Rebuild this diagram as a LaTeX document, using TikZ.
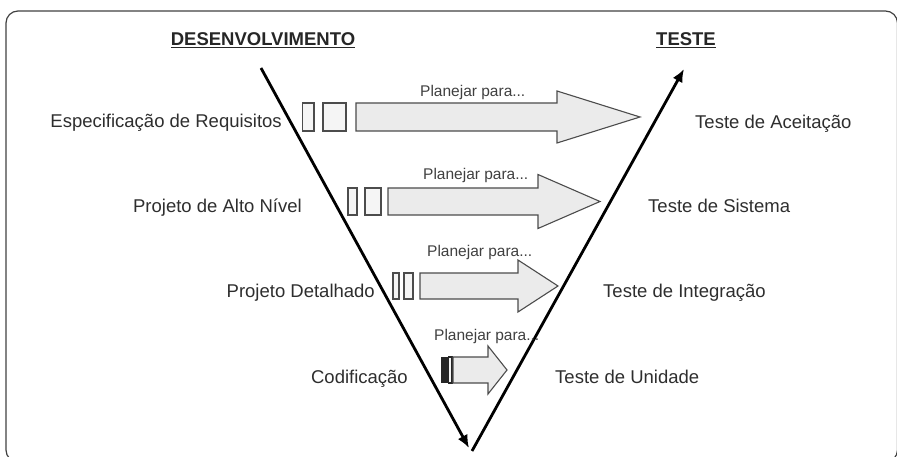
\documentclass[tikz,border=0pt]{standalone}
\usepackage{fontspec}
\setmainfont{Liberation Sans}
\usetikzlibrary{arrows.meta}
% one "Planejar para..." arrow: y, tail x, neck x, tip x, half shaft, half head
\newcommand{\plan}[6]{
	\draw [planbody](#2,#1-#5) -- (#3,#1-#5) -- (#3,#1-#6) -- (#4,#1)
	      -- (#3,#1+#6) -- (#3,#1+#5) -- (#2,#1+#5) -- cycle;
	}
% small box before the arrow: left x, right x, y, half height
\newcommand{\blk}[4]{
	\draw [planblock](#1,#3-#4) rectangle (#2,#3+#4);
	}
\begin{document}
\begin{tikzpicture}[
      x=1pt, y=-1pt, %pixel like units
      frame/.style={draw=black!75, line width=1.2pt, rounded corners=12pt},
      head/.style={font=\bfseries\fontsize{18.5}{20}\selectfont, text=black!85, inner sep=0pt},
      phase/.style={font=\fontsize{18.5}{20}\selectfont, text=black!82, inner sep=0pt},
      note/.style={font=\fontsize{15.5}{17}\selectfont, text=black!75, inner sep=0pt},
      planbody/.style={draw=black!70, fill=black!8, line width=1.1pt, line join=miter},
      planblock/.style={draw=black!70, fill=black!4, line width=1.1pt},
      vline/.style={line width=2.8pt, -{Latex[length=13pt,width=11pt]}}
    ]
    \useasboundingbox (0,0) rectangle (897,457);
    \draw [frame] (6,11) rectangle (897.5,462);
    %headings
    \node[head, anchor=base] (dev) at (263,46) {\underline{DESENVOLVIMENTO}};
    \node[head, anchor=base] (tst) at (686,46) {\underline{TESTE}};
    % the V
    \coordinate (devtop) at (261,68);
    \coordinate (vbot) at (469,448);
    \coordinate (tsttop) at (684,69);
    \draw [vline] (devtop) -- (vbot);
    \draw [vline] (472,451) -- (tsttop);
    % development phases
    \node[phase, anchor=base east] (spec) at (282,128) {Especificação de Requisitos};
    \node[phase, anchor=base east] (alto) at (302,213) {Projeto de Alto Nível};
    \node[phase, anchor=base east] (det) at (375,298) {Projeto Detalhado};
    \node[phase, anchor=base east] (cod) at (408,383) {Codificação};
    % test phases
    \node[phase, anchor=base west] (acc) at (695,129) {Teste de Aceitação};
    \node[phase, anchor=base west] (sis) at (648,213) {Teste de Sistema};
    \node[phase, anchor=base west] (int) at (603,298) {Teste de Integração};
    \node[phase, anchor=base west] (uni) at (555,383) {Teste de Unidade};
    % planning arrows
    \blk{302.5}{314}{117}{14};
    \blk{323}{346}{117}{14};
    \plan{117}{356}{557}{640}{14}{26};
    \blk{348}{357}{201.5}{13.5};
    \blk{365}{381}{201.5}{13.5};
    \plan{201.5}{388}{538}{600}{13.5}{27};
    \blk{393}{399}{286}{13};
    \blk{404}{413}{286}{13};
    \plan{286}{420}{518}{558}{13}{26};
    \fill [black!85](441,357) rectangle (447.5,383);
    \draw [planblock, draw=black!85](448.5,357) rectangle (452,383);
    \plan{370}{453}{488}{507}{13}{24};
    % labels over the arrows
    \node[note, anchor=base west] (p1) at (420,97) {Planejar para...};
    \node[note, anchor=base west] (p2) at (423,180) {Planejar para...};
    \node[note, anchor=base west] (p3) at (427,257) {Planejar para...};
    \node[note, anchor=base west] (p4) at (434,340) {Planejar para...};
\end{tikzpicture}
\end{document}
